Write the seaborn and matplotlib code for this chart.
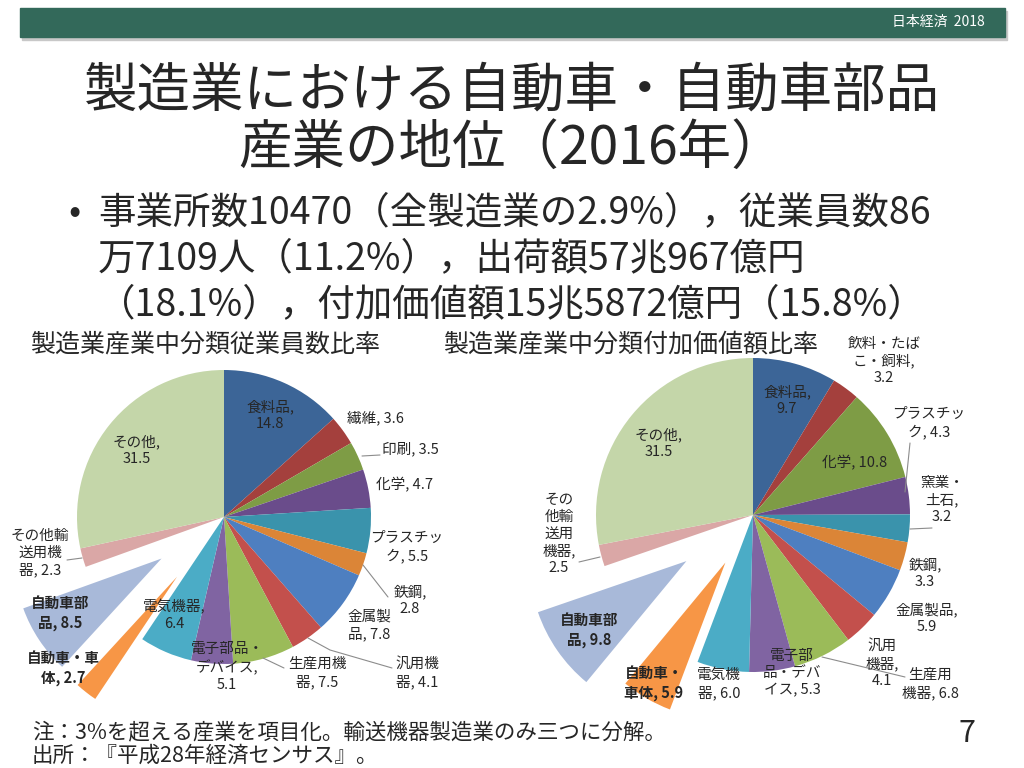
import matplotlib
matplotlib.use("Agg")
import matplotlib.pyplot as plt
from matplotlib.patches import Rectangle
import seaborn as sns

sns.set_style("white")
plt.rcParams['font.family'] = ['Noto Sans CJK JP', 'DejaVu Sans']

# data: employees share (left) and value added share (right), 2016
emp_names = ["食料品", "繊維", "印刷", "化学", "プラスチック", "鉄鋼", "金属製品",
             "汎用機器", "生産用機器", "電子部品・デバイス", "電気機器",
             "自動車・車体", "自動車部品", "その他輸送用機器", "その他"]
emp_values = [14.8, 3.6, 3.5, 4.7, 5.5, 2.8, 7.8, 4.1, 7.5, 5.1, 6.4, 2.7, 8.5, 2.3, 31.5]
emp_label_fmt = ["食料品,\n{v}", "繊維, {v}", "印刷, {v}", "化学, {v}", "プラスチッ\nク, {v}",
                 "鉄鋼,\n{v}", "金属製\n品, {v}", "汎用機\n器, {v}", "生産用機\n器, {v}",
                 "電子部品・\nデバイス,\n{v}", "電気機器,\n{v}", "自動車・車\n体, {v}",
                 "自動車部\n品, {v}", "その他輸\n送用機\n器, {v}", "その他,\n{v}"]

va_names = ["食料品", "飲料・たばこ・飼料", "化学", "プラスチック", "窯業・土石", "鉄鋼",
            "金属製品", "汎用機器", "生産用機器", "電子部品・デバイス", "電気機器",
            "自動車・車体", "自動車部品", "その他輸送用機器", "その他"]
va_values = [9.7, 3.2, 10.8, 4.3, 3.2, 3.3, 5.9, 4.1, 6.8, 5.3, 6.0, 5.9, 9.8, 2.5, 31.5]
va_label_fmt = ["食料品,\n{v}", "飲料・たば\nこ・飼料,\n{v}", "化学, {v}", "プラスチッ\nク, {v}",
                "窯業・\n土石,\n{v}", "鉄鋼,\n{v}", "金属製品,\n{v}", "汎用\n機器,\n{v}",
                "生産用\n機器, {v}", "電子部\n品・デバ\nイス, {v}", "電気機\n器, {v}",
                "自動車・\n車体, {v}", "自動車部\n品, {v}", "その\n他輸\n送用\n機器,\n{v}",
                "その他,\n{v}"]

slice_colors = sns.color_palette([
    "#3C6597", "#A4403D", "#7E9C45", "#6A4C8B", "#3A93AC", "#DB8537", "#4E7FC0",
    "#C3504C", "#9BBB59", "#8064A2", "#4BACC6", "#F79646", "#A8B9D9", "#DAA7A6",
    "#C4D6A9"])

# layout (pixels, y measured from top)
W, H = 1024, 768
emp_center, emp_radius = (224, 517), 147
va_center, va_radius = (753, 515), 157
emp_explode = [0] * 11 + [76, 75, 0, 0]
va_explode = [0] * 11 + [55, 81, 0, 0]

emp_label_xy = [(270, 415), (375, 418), (410, 449), (405, 485), (407, 547),
                (410, 600), (369, 625), (417, 673), (317, 673), (227, 667),
                (174, 615), (63, 668), (60, 613), (40, 553), (137, 450)]
va_label_xy = [(787, 400), (884, 361), (855, 463), (929, 423), (942, 500),
               (925, 573), (927, 618), (882, 664), (930, 684), (792, 673),
               (719, 684), (654, 683), (589, 630), (559, 534), (659, 443)]

leaders = [[(362, 456), (380, 455)],
           [(363, 565), (388, 597)],
           [(308, 638), (330, 650), (392, 668)],
           [(263, 658), (284, 668)],
           [(67, 560), (82, 558)],
           [(910, 443), (905, 492)],
           [(910, 529), (932, 528)],
           [(822, 657), (905, 677)],
           [(579, 562), (600, 557)]]

fig = plt.figure(figsize=(W / 100, H / 100), dpi=100)
ax = fig.add_axes([0, 0, 1, 1])


def flip(p):
    return (p[0], H - p[1])


for vals, center, radius, expl, fmts, xys in [
        (emp_values, emp_center, emp_radius, emp_explode, emp_label_fmt, emp_label_xy),
        (va_values, va_center, va_radius, va_explode, va_label_fmt, va_label_xy)]:
    ax.pie(vals, colors=slice_colors, startangle=90, counterclock=False,
           center=flip(center), radius=radius, explode=expl,
           wedgeprops=dict(linewidth=0))
    for i, (f, v, xy) in enumerate(zip(fmts, vals, xys)):
        bold = i in (11, 12)
        ax.text(*flip(xy), f.format(v=v), ha="center", va="center",
                fontsize=10.5, color="#262626", linespacing=1.25,
                fontweight="bold" if bold else "normal")

for pts in leaders:
    xs = [p[0] for p in pts]
    ys = [H - p[1] for p in pts]
    ax.plot(xs, ys, color="#8c8c8c", lw=0.8)

# header bar
ax.add_patch(Rectangle((22, H - 40), 985, 29, color="#c8c8c8", zorder=0))
ax.add_patch(Rectangle((20, H - 37), 985, 29, color="#33695A", zorder=1))
ax.text(985, H - 22, "日本経済  2018", ha="right", va="center", fontsize=10, color="white")

# titles
ax.text(512, H - 91, "製造業における自動車・自動車部品", ha="center", va="center", fontsize=38.5)
ax.text(512, H - 148, "産業の地位（2016年）", ha="center", va="center", fontsize=38.5)

ax.text(75, H - 213, "•", ha="center", va="center", fontsize=26)
bullet_lines = ["事業所数10470（全製造業の2.9%），従業員数86",
                "万7109人（11.2%），出荷額57兆967億円",
                "（18.1%），付加価値額15兆5872億円（15.8%）"]
for i, line in enumerate(bullet_lines):
    ax.text(98, H - (213 + 46 * i), line, ha="left", va="center", fontsize=27)

ax.text(30, H - 345, "製造業産業中分類従業員数比率", ha="left", va="center", fontsize=18)
ax.text(443, H - 345, "製造業産業中分類付加価値額比率", ha="left", va="center", fontsize=18)

# footer
ax.text(32, H - 732, "注：3%を超える産業を項目化。輸送機器製造業のみ三つに分解。",
        ha="left", va="center", fontsize=15.5)
ax.text(32, H - 756, "出所：『平成28年経済センサス』。", ha="left", va="center", fontsize=15.5)
ax.text(967, H - 733, "7", ha="center", va="center", fontsize=22)

ax.set_xlim(0, W)
ax.set_ylim(0, H)
ax.set_aspect("equal")
ax.axis("off")

fig.savefig("out.png", dpi=100)
